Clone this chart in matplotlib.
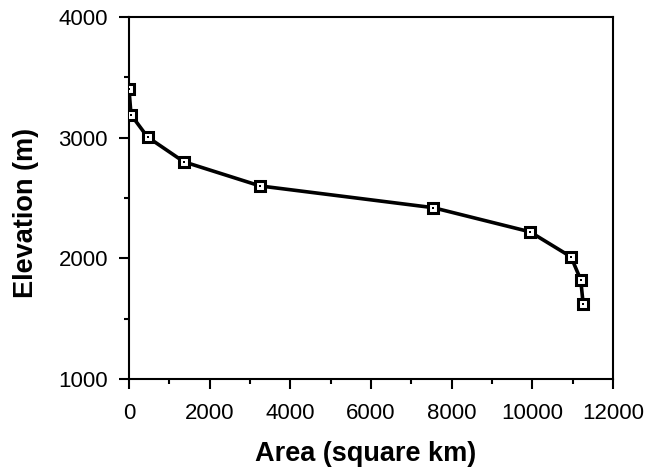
import numpy as np
import matplotlib
matplotlib.use("Agg")
import matplotlib.pyplot as plt
from matplotlib.ticker import MultipleLocator

# Area-elevation values
area = [0, 50, 460, 1360, 3250, 7540, 9940, 10960, 11200, 11260]
elevation = [3400, 3190, 3005, 2800, 2600, 2420, 2220, 2012, 1822, 1622]

plt.rcParams['font.family'] = ['Liberation Sans', 'DejaVu Sans']

fig = plt.figure(figsize=(6.47, 4.67), dpi=100)
ax = fig.add_axes([129 / 647, 1 - 379 / 467, 484 / 647, 362 / 467])

ax.plot(area, elevation, color='black', lw=2.6, zorder=2)
ax.plot(area, elevation, ls='none', marker='s', ms=6.5, mfc='white',
        mec='black', mew=2.2, zorder=3)
ax.plot(area, elevation, ls='none', marker='s', ms=1.6, mfc='black',
        mec='black', mew=0, zorder=4)

ax.set_xlim(0, 12000)
ax.set_ylim(1000, 4000)
ax.xaxis.set_major_locator(MultipleLocator(2000))
ax.xaxis.set_minor_locator(MultipleLocator(1000))
ax.yaxis.set_major_locator(MultipleLocator(1000))
ax.yaxis.set_minor_locator(MultipleLocator(500))

ax.tick_params(which='both', direction='out', width=1.5, colors='black',
               labelsize=16, top=False, right=False)
ax.tick_params(which='major', length=7.2)
ax.tick_params(axis='x', which='major', pad=10)
ax.tick_params(axis='y', which='major', pad=8)
ax.tick_params(which='minor', length=3.8)
for s in ax.spines.values():
    s.set_linewidth(1.5)

ax.set_xlabel('Area (square km)', fontsize=19.5, fontweight='bold',
              labelpad=12, x=0.488)
ax.set_ylabel('Elevation (m)', fontsize=19.5, fontweight='bold',
              labelpad=14, y=0.46)

fig.savefig('out.png', dpi=100)
